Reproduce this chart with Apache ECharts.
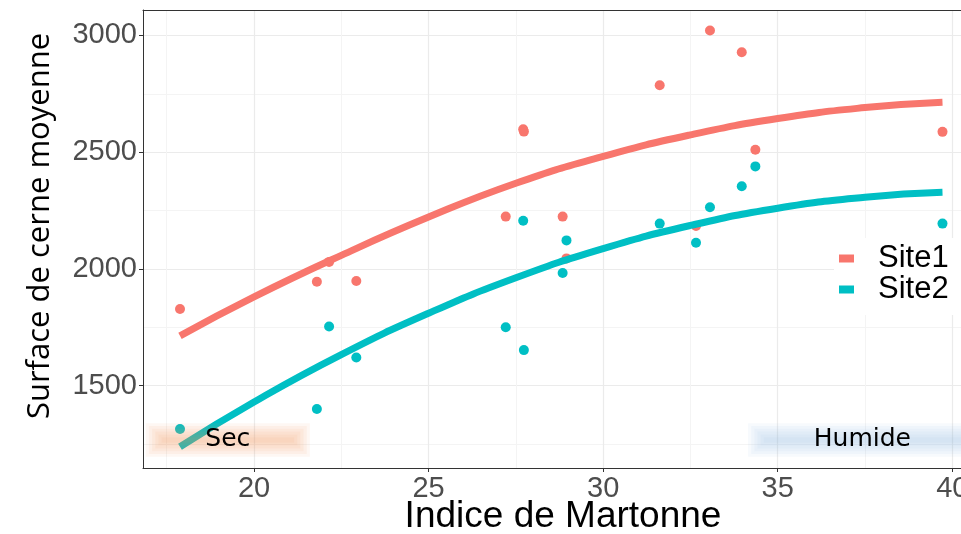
<!DOCTYPE html>
<html>
<head>
<meta charset="utf-8">
<script src="https://cdn.jsdelivr.net/npm/echarts@6/dist/echarts.min.js"></script>
<style>html,body{margin:0;padding:0;background:#fff;}#c{width:961px;height:534px;}</style>
</head>
<body>
<div id="c"></div>
<script>
// Data
const indiceMartonne = [17.88, 21.80, 22.15, 22.93, 27.21, 27.71, 27.73, 28.84, 28.95, 31.62, 32.66, 33.06, 33.97, 34.36, 39.72];
const site1Values = [1828, 1945, 2030, 1948, 2224, 2598, 2588, 2224, 2045, 2787, 2184, 3021, 2928, 2510, 2587];
const site2Values = [1314, 1400, 1753, 1620, 1750, 2206, 1652, 1982, 2122, 2194, 2112, 2264, 2354, 2439, 2194];
// fitted curves
const fitX = [17.88, 20, 22.5, 25, 27.5, 30, 32.5, 35, 37.5, 39.72];
const fitSite1 = [1713, 1880, 2058, 2222, 2367, 2482, 2574, 2644, 2691, 2714];
const fitSite2 = [1238, 1430, 1633, 1810, 1962, 2087, 2186, 2260, 2307, 2328];
const xTicks = [20, 25, 30, 35, 40];
const yTicks = [1500, 2000, 2500, 3000];
const seriesNames = ['Site1', 'Site2'];
const zoneLabels = ['Sec', 'Humide'];
const zoneX = [[17.35, 21.15], [34.6, 40.6]];
const zoneYCenter = 1267;

const colors = ['#F8766D', '#00BFC4'];
const zoneColors = ['235,150,90', '150,185,225'];
const pairs = (xs, ys) => xs.map((x, i) => [x, ys[i]]);

const chart = echarts.init(document.getElementById('c'), null, {renderer: 'canvas'});
const xMin = 16.82, xMax = 40.25, yMin = 1147, yMax = 3109;

// soft-edged zones: nested rectangles, each a little larger and faint
const layers = [0, 1, 2, 3, 4, 5];
const zoneData = [];
zoneLabels.forEach((lab, zi) => {
  layers.forEach((k) => {
    const dx = 0.09 * k, dy = 12 * k + 12;
    zoneData.push([
      {name: k === 0 ? lab : '', xAxis: zoneX[zi][0] - dx, yAxis: zoneYCenter - dy,
       itemStyle: {color: 'rgba(' + zoneColors[zi] + ',0.075)', shadowBlur: 6, shadowColor: 'rgba(' + zoneColors[zi] + ',0.075)'}},
      {xAxis: zoneX[zi][1] + dx, yAxis: zoneYCenter + dy}
    ]);
  });
});

const option = {
  animation: false,
  backgroundColor: '#ffffff',
  grid: {left: 143, top: 10, width: 818, bottom: 66, containLabel: false, outerBoundsMode: 'none'},
  xAxis: [{
    type: 'value', min: xMin, max: xMax, position: 'bottom',
    axisLine: {show: true, onZero: false, lineStyle: {color: '#333333', width: 1}},
    axisTick: {show: true, length: 4, customValues: xTicks, lineStyle: {color: '#333333'}},
    axisLabel: {customValues: xTicks, fontSize: 29, color: '#4d4d4d', fontFamily: 'Liberation Sans', margin: 6, formatter: (v) => String(v)},
    splitLine: {show: true, lineStyle: {color: '#ebebeb', width: 1.2}}
  }, {
    type: 'value', min: xMin + 2.5, max: xMax + 2.5, position: 'top',
    axisLine: {show: true, onZero: false, lineStyle: {color: '#333333', width: 1}},
    axisTick: {show: false}, axisLabel: {show: false},
    splitLine: {show: true, lineStyle: {color: '#f4f4f4', width: 1}}
  }],
  yAxis: [{
    type: 'value', min: yMin, max: yMax, splitNumber: 4, position: 'left',
    axisLine: {show: true, onZero: false, lineStyle: {color: '#333333', width: 1}},
    axisTick: {show: true, length: 4, customValues: yTicks, lineStyle: {color: '#333333'}},
    axisLabel: {customValues: yTicks, fontSize: 29, color: '#4d4d4d', fontFamily: 'Liberation Sans', margin: 6, formatter: (v) => String(v)},
    splitLine: {show: true, lineStyle: {color: '#ebebeb', width: 1.2}}
  }, {
    type: 'value', min: yMin + 250, max: yMax + 250, splitNumber: 4, position: 'right',
    axisLine: {show: false}, axisTick: {show: false}, axisLabel: {show: false},
    splitLine: {show: true, lineStyle: {color: '#f4f4f4', width: 1}}
  }],
  legend: {
    data: seriesNames, orient: 'vertical', left: 834, top: 238,
    backgroundColor: '#ffffff', padding: [5, 20, 10, 5], itemGap: 0,
    icon: 'rect', itemWidth: 15, itemHeight: 8,
    textStyle: {fontSize: 31, lineHeight: 30, color: '#000', fontFamily: 'Liberation Sans', padding: [0, 0, 0, 19]}
  },
  graphic: [
    {type: 'text', x: 563, y: 517, z: 100, style: {text: 'Indice de Martonne', fontSize: 37, fontFamily: 'Liberation Sans', fill: '#000', align: 'center', verticalAlign: 'middle'}},
    {type: 'text', x: 40, y: 226, rotation: Math.PI / 2, z: 100, style: {text: 'Surface de cerne moyenne', fontSize: 31, fontFamily: 'Open Sans', fill: '#000', align: 'center', verticalAlign: 'middle'}}
  ],
  series: [
    {name: seriesNames[0], type: 'scatter', symbolSize: 10, data: pairs(indiceMartonne, site1Values), z: 2,
     itemStyle: {color: colors[0], opacity: 1}},
    {name: seriesNames[1], type: 'scatter', symbolSize: 10, data: pairs(indiceMartonne, site2Values), z: 2,
     itemStyle: {color: colors[1], opacity: 1}},
    {name: seriesNames[0], type: 'line', smooth: true, showSymbol: false, data: pairs(fitX, fitSite1), z: 3,
     itemStyle: {color: colors[0]}, lineStyle: {color: colors[0], width: 7}},
    {name: seriesNames[1], type: 'line', smooth: true, showSymbol: false, data: pairs(fitX, fitSite2), z: 3,
     itemStyle: {color: colors[1]}, lineStyle: {color: colors[1], width: 7}},
    {name: 'zones', type: 'line', data: [], z: 10,
     markArea: {
       silent: true, z: 10,
       label: {show: true, position: 'inside', fontSize: 25, fontFamily: 'DejaVu Sans', color: '#000'},
       data: zoneData
     }}
  ]
};
chart.setOption(option);
</script>
</body>
</html>
